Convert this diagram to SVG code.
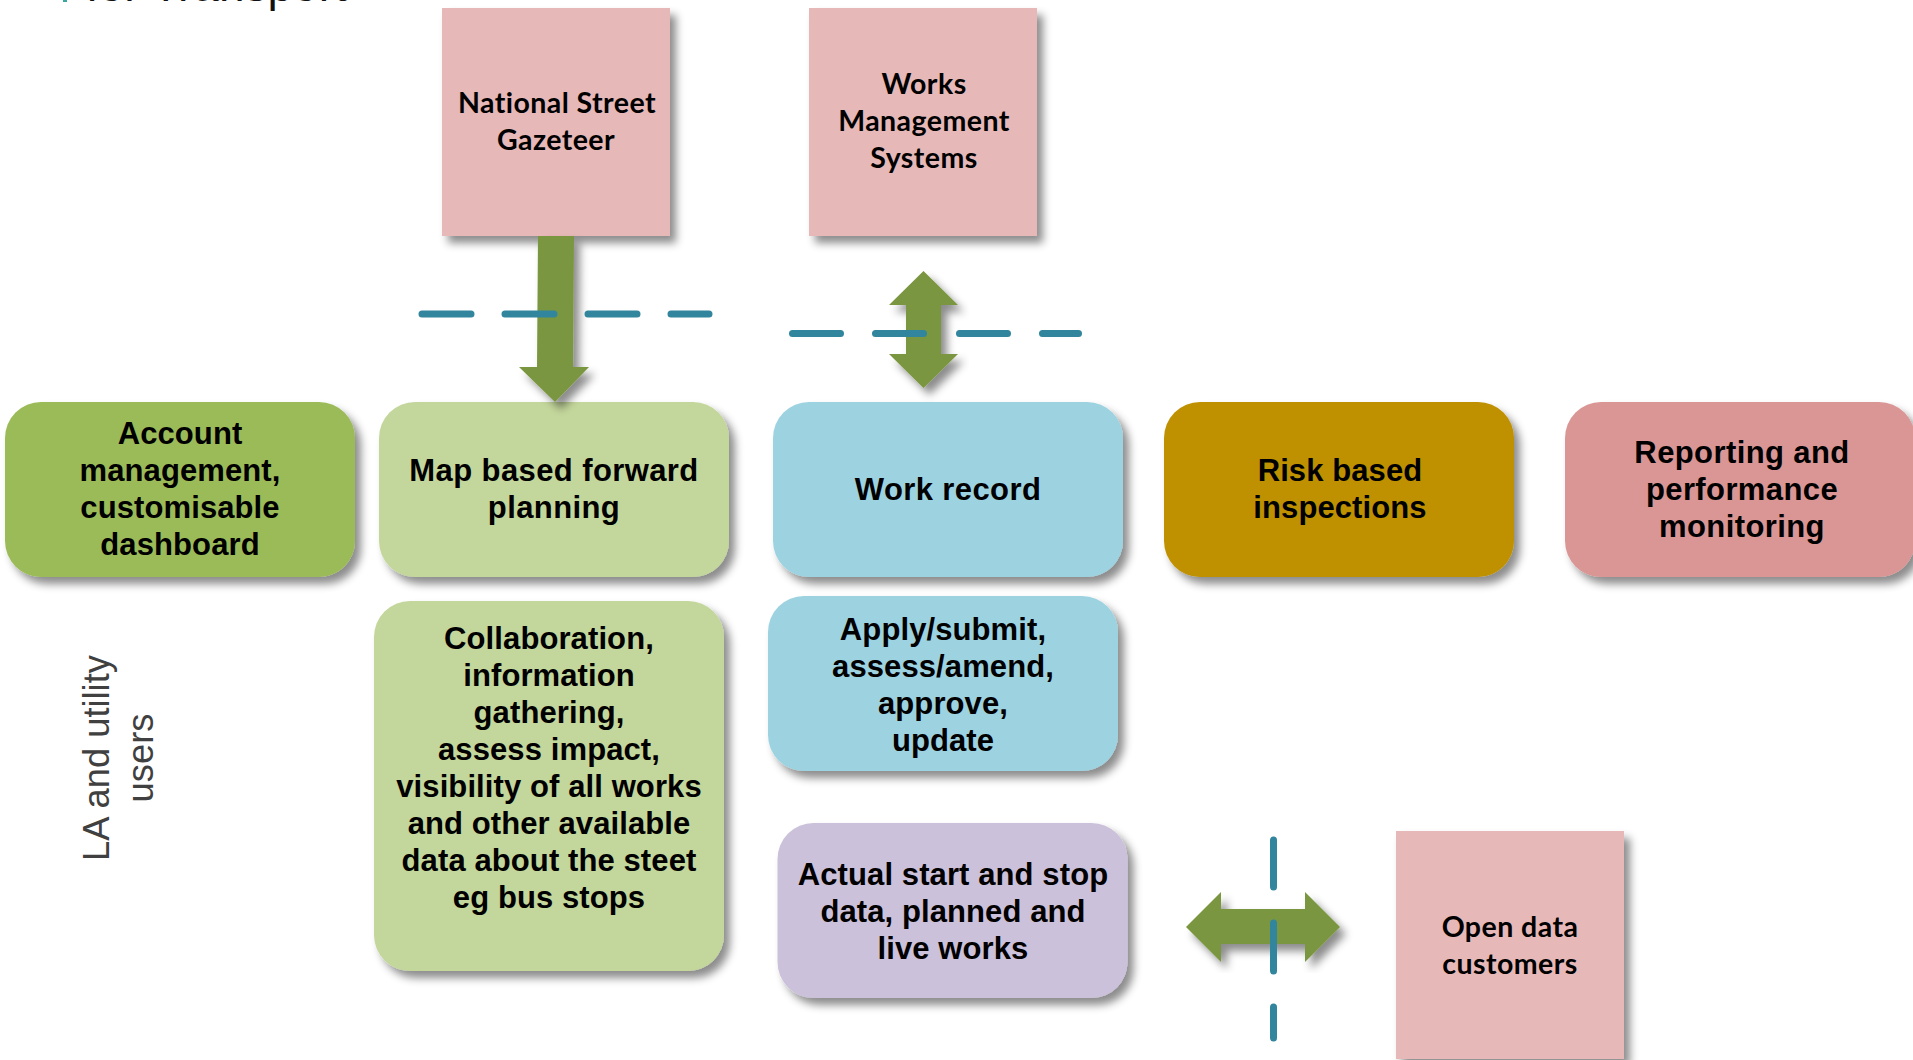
<svg xmlns="http://www.w3.org/2000/svg" width="1913" height="1060" viewBox="0 0 1913 1060">
<defs>
<filter id="sh" x="-15%" y="-15%" width="130%" height="130%"><feDropShadow dx="6" dy="7" stdDeviation="4.5" flood-color="#000" flood-opacity="0.45"/></filter>
</defs>
<style>
text{font-family:"Liberation Sans",Arial,sans-serif;fill:#000;text-anchor:middle}
.b{font-weight:700;font-size:31px;letter-spacing:.1px}
.w{letter-spacing:.4px}
.c{font-family:Lato,"Liberation Sans",sans-serif;font-weight:700;font-size:28.5px;letter-spacing:.45px}
.s{filter:url(#sh)}
.p{fill:#e6b8b7}
.a{fill:#7a963f}
.d{stroke:#31859c;stroke-width:7;stroke-linecap:round;fill:none}
.l{font-size:36.3px;fill:#404040}
</style>
<rect width="1913" height="1060" fill="#fff"/>
<rect x="63" y="0" width="4" height="2" fill="#3aa6a0"/>
<text x="86" y="1" style="text-anchor:start;font-size:46px;fill:#111">for Transport</text>
<g id="nsg"><rect class="p s" x="442" y="8" width="228" height="228"/><text class="c" x="557" y="113">National Street</text><text class="c" x="556" y="150">Gazeteer</text></g>
<g id="wms"><rect class="p s" x="809" y="8" width="228" height="228"/><text class="c" x="924" y="94">Works</text><text class="c" x="924" y="131">Management</text><text class="c" x="924" y="168">Systems</text></g>
<g id="odc"><rect class="p s" x="1396" y="831" width="228" height="228"/><text class="c" x="1510" y="937">Open data</text><text class="c" x="1510" y="974">customers</text></g>
<g id="account"><rect class="s" x="5" y="402" width="350" height="175" rx="36" fill="#9bbb59"/><text class="b" x="180" y="444">Account</text><text class="b" x="180" y="481">management,</text><text class="b" x="180" y="518">customisable</text><text class="b" x="180" y="555">dashboard</text></g>
<g id="map"><rect class="s" x="379" y="402" width="350" height="175" rx="36" fill="#c3d69b"/><text class="b w" x="554" y="481">Map based forward</text><text class="b w" x="554" y="518">planning</text></g>
<g id="work"><rect class="s" x="773" y="402" width="350" height="175" rx="36" fill="#9dd2e0"/><text class="b w" x="948" y="500">Work record</text></g>
<g id="risk"><rect class="s" x="1164" y="402" width="350" height="175" rx="36" fill="#bf9000"/><text class="b" x="1340" y="481">Risk based</text><text class="b" x="1340" y="518">inspections</text></g>
<g id="report"><rect class="s" x="1565" y="402" width="350" height="175" rx="36" fill="#d99694"/><text class="b w" x="1742" y="463">Reporting and</text><text class="b w" x="1742" y="500">performance</text><text class="b w" x="1742" y="537">monitoring</text></g>
<g id="collab"><rect class="s" x="374" y="601" width="350" height="370" rx="36" fill="#c3d69b"/><text class="b" x="549" y="648.500">Collaboration,</text><text class="b" x="549" y="686">information</text><text class="b" x="549" y="723">gathering,</text><text class="b" x="549" y="760">assess impact,</text><text class="b" x="549" y="797">visibility of all works</text><text class="b" x="549" y="834">and other available</text><text class="b" x="549" y="871">data about the steet</text><text class="b" x="549" y="908">eg bus stops</text></g>
<g id="apply"><rect class="s" x="768" y="596" width="350" height="175" rx="36" fill="#9dd2e0"/><text class="b" x="943" y="639.500">Apply/submit,</text><text class="b" x="943" y="676.500">assess/amend,</text><text class="b" x="943" y="713.500">approve,</text><text class="b" x="943" y="750.500">update</text></g>
<g id="actual"><rect class="s" x="777.500" y="823" width="350" height="175" rx="36" fill="#ccc1da"/><text class="b" x="953" y="885">Actual start and stop</text><text class="b" x="953" y="922">data, planned and</text><text class="b" x="953" y="959">live works</text></g>
<g id="la"><text class="l" transform="translate(109,758) rotate(-90)">LA and utility</text><text class="l" transform="translate(153,758) rotate(-90)">users</text></g>
<g id="connectors">
<polygon class="a s" points="538,236 574,236 573,367 589,367 555,402 519,367 537,367"/>
<polygon class="a s" points="923.500,271 958,305 941,305 941,354 958,354 923.500,388 889,354 906,354 906,305 889,305"/>
<polygon class="a s" points="1186,927 1221,892 1221,909 1305,909 1305,892 1340,927 1305,962 1305,944 1221,944 1221,962"/>
<path class="d" d="M422 314H471M505 314H554M588 314H637M671 314H709"/>
<path class="d" d="M792.500 333.500H840.500M875.500 333.500H923.500M959.500 333.500H1007.500M1042.500 333.500H1078.500"/>
<path class="d" d="M1273.500 840V887M1273.500 923V971M1273.500 1007V1038"/>
</g>
</svg>
